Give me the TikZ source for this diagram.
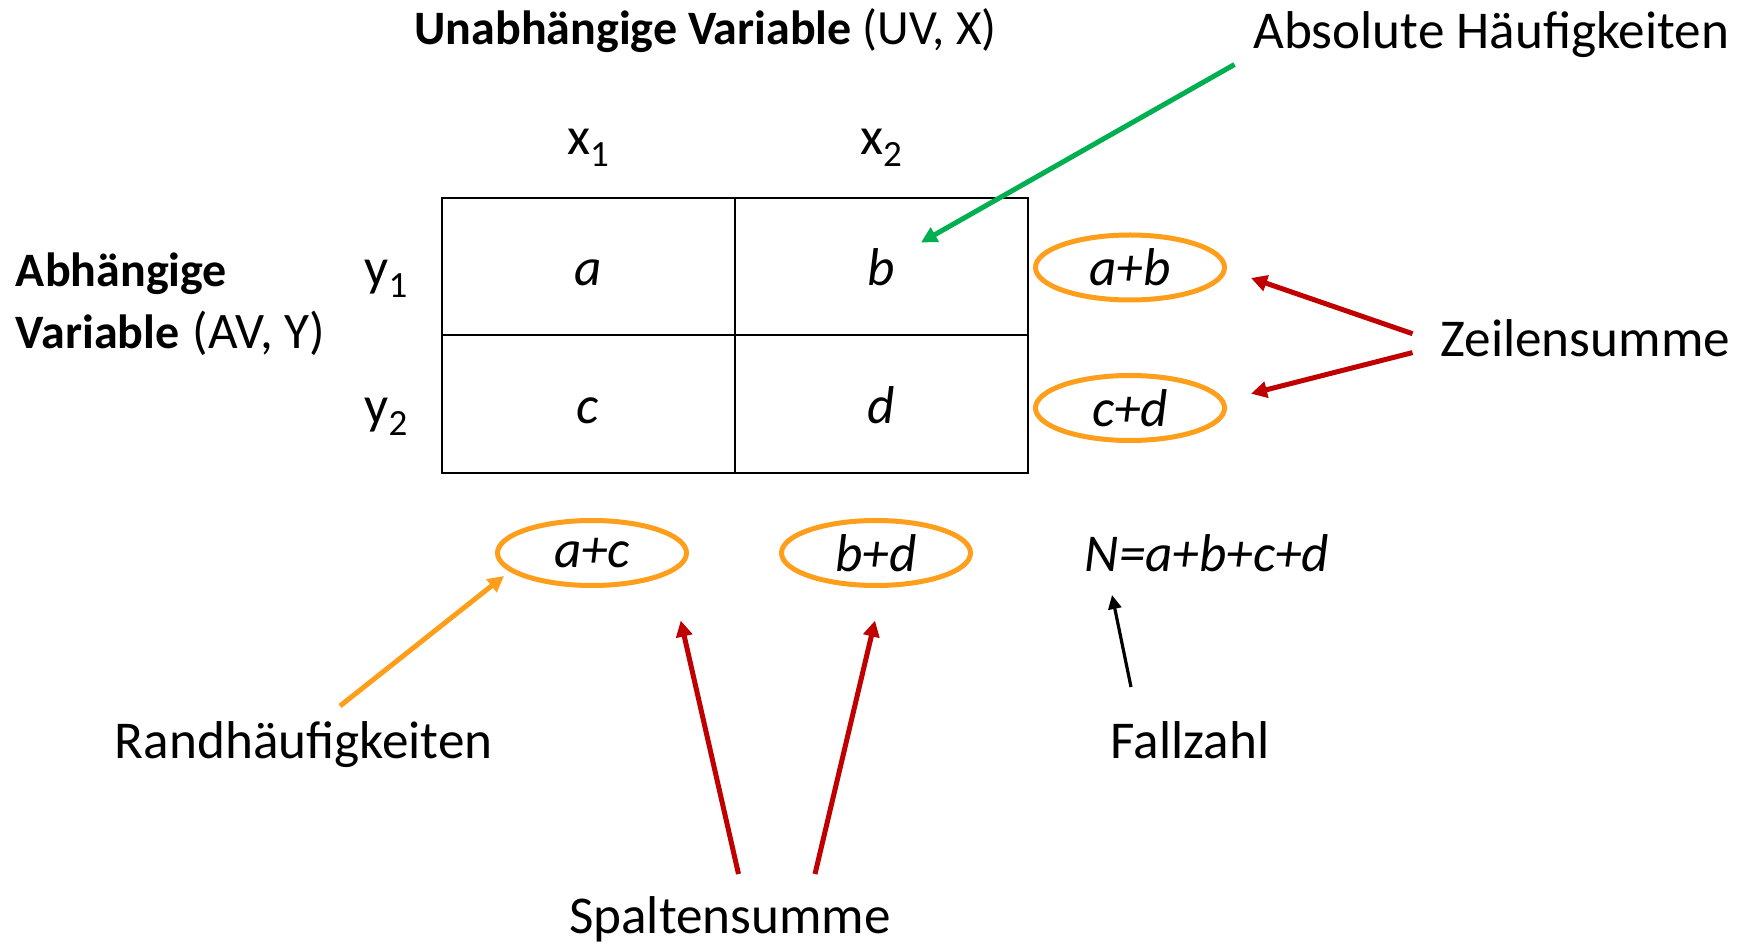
\documentclass[tikz,border=0pt]{standalone}
\usepackage{fontspec}
\setmainfont{Carlito}
\usetikzlibrary{arrows.meta,shapes.geometric}
\definecolor{ogreen}{RGB}{0,176,80}
\definecolor{ored}{RGB}{192,0,0}
\definecolor{oorange}{RGB}{255,158,27}
\newcommand\subidx[1]{\raisebox{-6pt}{\fontsize{18.5}{18.5}\selectfont #1}}
\begin{document}
\begin{tikzpicture}[x=0.5pt,y=-0.5pt,
  lab/.style={font=\fontsize{26.6}{32}\selectfont, inner sep=0pt},
  ttl/.style={font=\fontsize{24}{29}\selectfont, inner sep=0pt},
  cell/.style={font=\fontsize{26.6}{32}\selectfont\itshape, inner sep=0pt},
  sumell/.style={ellipse, draw=oorange, line width=2.5pt, minimum width=94.5pt, minimum height=32.5pt, inner sep=0pt, font=\fontsize{26.6}{32}\selectfont\itshape},
  arr/.style={line width=2.5pt, -{Triangle[length=8pt,width=8pt]}},
  grid/.style={line width=1pt, draw=black}
]
\useasboundingbox (0,0) rectangle (1744,945);
% table
\draw[grid] (441.5,198) rectangle (1027.7,472.7);
\draw[grid] (735,198) -- (735,472.7);
\draw[grid] (441.5,335) -- (1027.7,335);
% cell entries
\node[cell, anchor=base] (a) at (588,286) {a};
\node[cell, anchor=base] (b) at (881,286) {b};
\node[cell, anchor=base] (c) at (588,424) {c};
\node[cell, anchor=base] (d) at (881,424) {d};
% headers
\node[ttl, anchor=base west] (uv) at (414,44.5) {\textbf{Unabhängige Variable} {\fontsize{24.6}{29}\selectfont(UV, X)}};
\node[lab, anchor=base] (x1) at (588,155) {x\subidx{1}};
\node[lab, anchor=base] (x2) at (881,155) {x\subidx{2}};
\node[lab, anchor=base] (y1) at (386,286) {y\subidx{1}};
\node[lab, anchor=base] (y2) at (386,424) {y\subidx{2}};
\node[ttl, anchor=base west] (av1) at (15.6,287) {\textbf{Abhängige}};
\node[ttl, anchor=base west] (av2) at (15.6,349) {\textbf{Variable}\hspace{6.5pt}{\fontsize{25.6}{29}\selectfont(AV, Y)}};
% sums
\node[sumell] (ab) at (1130,267.5) {a+b};
\node[sumell] (cd) at (1130,408) {c+d};
\node[sumell] (ac) at (592,553) {a+c};
\node[sumell] (bd) at (876,553) {b+d};
\node[cell] (N) at (1207,553) {N=a+b+c+d};
% labels
\node[lab, anchor=base west] (abs) at (1253,49) {Absolute Häufigkeiten};
\node[lab, anchor=base west] (zeile) at (1440,357) {Zeilensumme};
\node[lab, anchor=base west] (rand) at (114.5,758.5) {Randhäufigkeiten};
\node[lab, anchor=base] (fall) at (1190,758.5) {Fallzahl};
\node[lab, anchor=base] (spalte) at (730,933) {Spaltensumme};
% arrow end points
\coordinate (gS) at (1234.5,64.5);  \coordinate (gE) at (921,242.5);
\coordinate (z1S) at (1412.5,333.7); \coordinate (z1E) at (1251,278);
\coordinate (z2S) at (1412.5,352.6); \coordinate (z2E) at (1251,393.7);
\coordinate (rS) at (340,706);      \coordinate (rE) at (504,576);
\coordinate (s1S) at (738.5,874);   \coordinate (s1E) at (680.7,620.6);
\coordinate (s2S) at (815,874);     \coordinate (s2E) at (875,620.6);
\coordinate (fS) at (1131,687);     \coordinate (fE) at (1112,595);
% arrows
\draw[arr, ogreen] (gS) -- (gE);
\draw[arr, ored] (z1S) -- (z1E);
\draw[arr, ored] (z2S) -- (z2E);
\draw[arr, oorange] (rS) -- (rE);
\draw[arr, ored] (s1S) -- (s1E);
\draw[arr, ored] (s2S) -- (s2E);
\draw[line width=1.6pt, -{Triangle[length=7pt,width=6.5pt]}, black] (fS) -- (fE);
\end{tikzpicture}
\end{document}
